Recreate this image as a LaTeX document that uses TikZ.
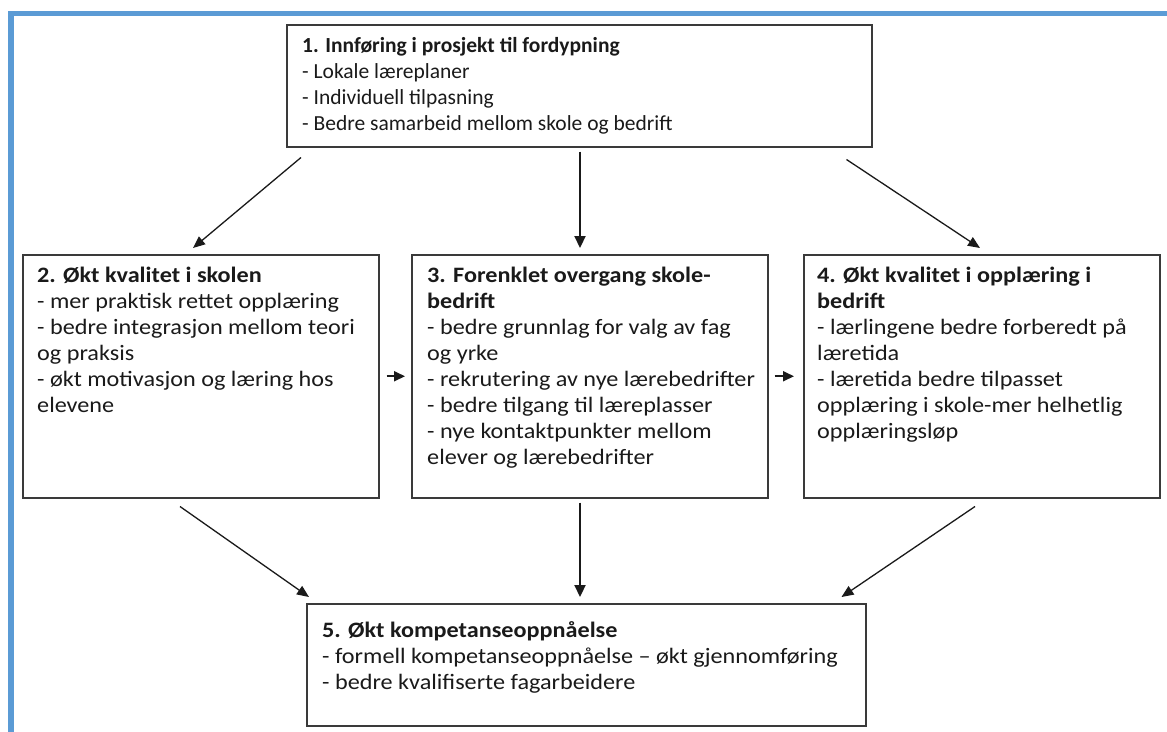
\documentclass[tikz,border=0pt]{standalone}
\usepackage{fontspec}
\setmainfont{Carlito}
\newfontfamily\widefont[FakeStretch=1.1]{Carlito}
\usetikzlibrary{arrows.meta}
\definecolor{frameblue}{HTML}{5B9BD5}
\definecolor{boxline}{HTML}{3A3A3A}
\definecolor{ink}{HTML}{1A1A1A}
% left-aligned stack of lines whose baseline is the first line's
\newcommand\boxlines[1]{\begin{tabular}[t]{@{}l@{}}#1\end{tabular}}
\begin{document}
\begin{tikzpicture}[x=1pt,y=-1pt,
  box/.style={draw=boxline,line width=1.5pt,anchor=north west,inner sep=0pt},
  txt/.style={anchor=base west,inner sep=0pt,text=ink,
    font=\widefont\fontsize{22}{26}\selectfont},
  toptxt/.style={txt,font=\fontsize{21.5}{26}\selectfont},
  arr/.style={draw=ink,line width=1.3pt,-{Triangle[length=12pt,width=10pt]}},
  thickarr/.style={draw=ink,line width=2.2pt,-{Triangle[length=12pt,width=11pt]}},
  sidearr/.style={draw=ink,line width=1.8pt,-{Triangle[length=11pt,width=10pt]}}]
\useasboundingbox (0,0) rectangle (1167,731);
\fill[white] (0,0) rectangle (1167,731);
% page frame
\draw[frameblue,line width=5.5pt] (11,760) -- (11,13.5) -- (1190,13.5);

% boxes
\node[box,minimum width=585pt,minimum height=122pt] (b1) at (286,24) {};
\node[box,minimum width=356pt,minimum height=243pt] (b2) at (22,254) {};
\node[box,minimum width=356pt,minimum height=243pt] (b3) at (411,254) {};
\node[box,minimum width=356pt,minimum height=243pt] (b4) at (803,254) {};
\node[box,minimum width=559pt,minimum height=122pt] (b5) at (306,603) {};

% texts
\node[toptxt] (t1) at (302,52) {\boxlines{\textbf{1. Innføring i prosjekt til fordypning}\\
- Lokale læreplaner\\
- Individuell tilpasning\\
- Bedre samarbeid mellom skole og bedrift}};
\node[txt] (t2) at (37,282) {\boxlines{\textbf{2. Økt kvalitet i skolen}\\
- mer praktisk rettet opplæring\\
- bedre integrasjon mellom teori\\
og praksis\\
- økt motivasjon og læring hos\\
elevene}};
\node[txt] (t3) at (427,282) {\boxlines{\textbf{3. Forenklet overgang skole-}\\
\textbf{bedrift}\\
- bedre grunnlag for valg av fag\\
og yrke\\
- rekrutering av nye lærebedrifter\\
- bedre tilgang til læreplasser\\
- nye kontaktpunkter mellom\\
elever og lærebedrifter}};
\node[txt] (t4) at (817,282) {\boxlines{\textbf{4. Økt kvalitet i opplæring i}\\
\textbf{bedrift}\\
- lærlingene bedre forberedt på\\
læretida\\
- læretida bedre tilpasset\\
opplæring i skole-mer helhetlig\\
opplæringsløp}};
\node[txt] (t5) at (322,637) {\boxlines{\textbf{5. Økt kompetanseoppnåelse}\\
- formell kompetanseoppnåelse – økt gjennomføring\\
- bedre kvalifiserte fagarbeidere}};

% connectors
\draw[arr] ([shift={(15,10)}]b1.south west) -- ([shift={(171,-6)}]b2.north west);
\draw[thickarr] ([shift={(294,4)}]b1.south west) -- ([shift={(169,-6)}]b3.north west);
\draw[arr] ([shift={(-26,12)}]b1.south east) -- ([shift={(177,-6)}]b4.north west);
\draw[sidearr] ([shift={(7,0)}]b2.east) -- ([shift={(-6,0)}]b3.west);
\draw[sidearr] ([shift={(6,0)}]b3.east) -- ([shift={(-9,0)}]b4.west);
\draw[arr] ([shift={(158,8)}]b2.south west) -- ([shift={(3,-6)}]b5.north west);
\draw[thickarr] ([shift={(169,4)}]b3.south west) -- ([shift={(274,-6)}]b5.north west);
\draw[arr] ([shift={(172,8)}]b4.south west) -- ([shift={(-25,-6)}]b5.north east);
\end{tikzpicture}
\end{document}
